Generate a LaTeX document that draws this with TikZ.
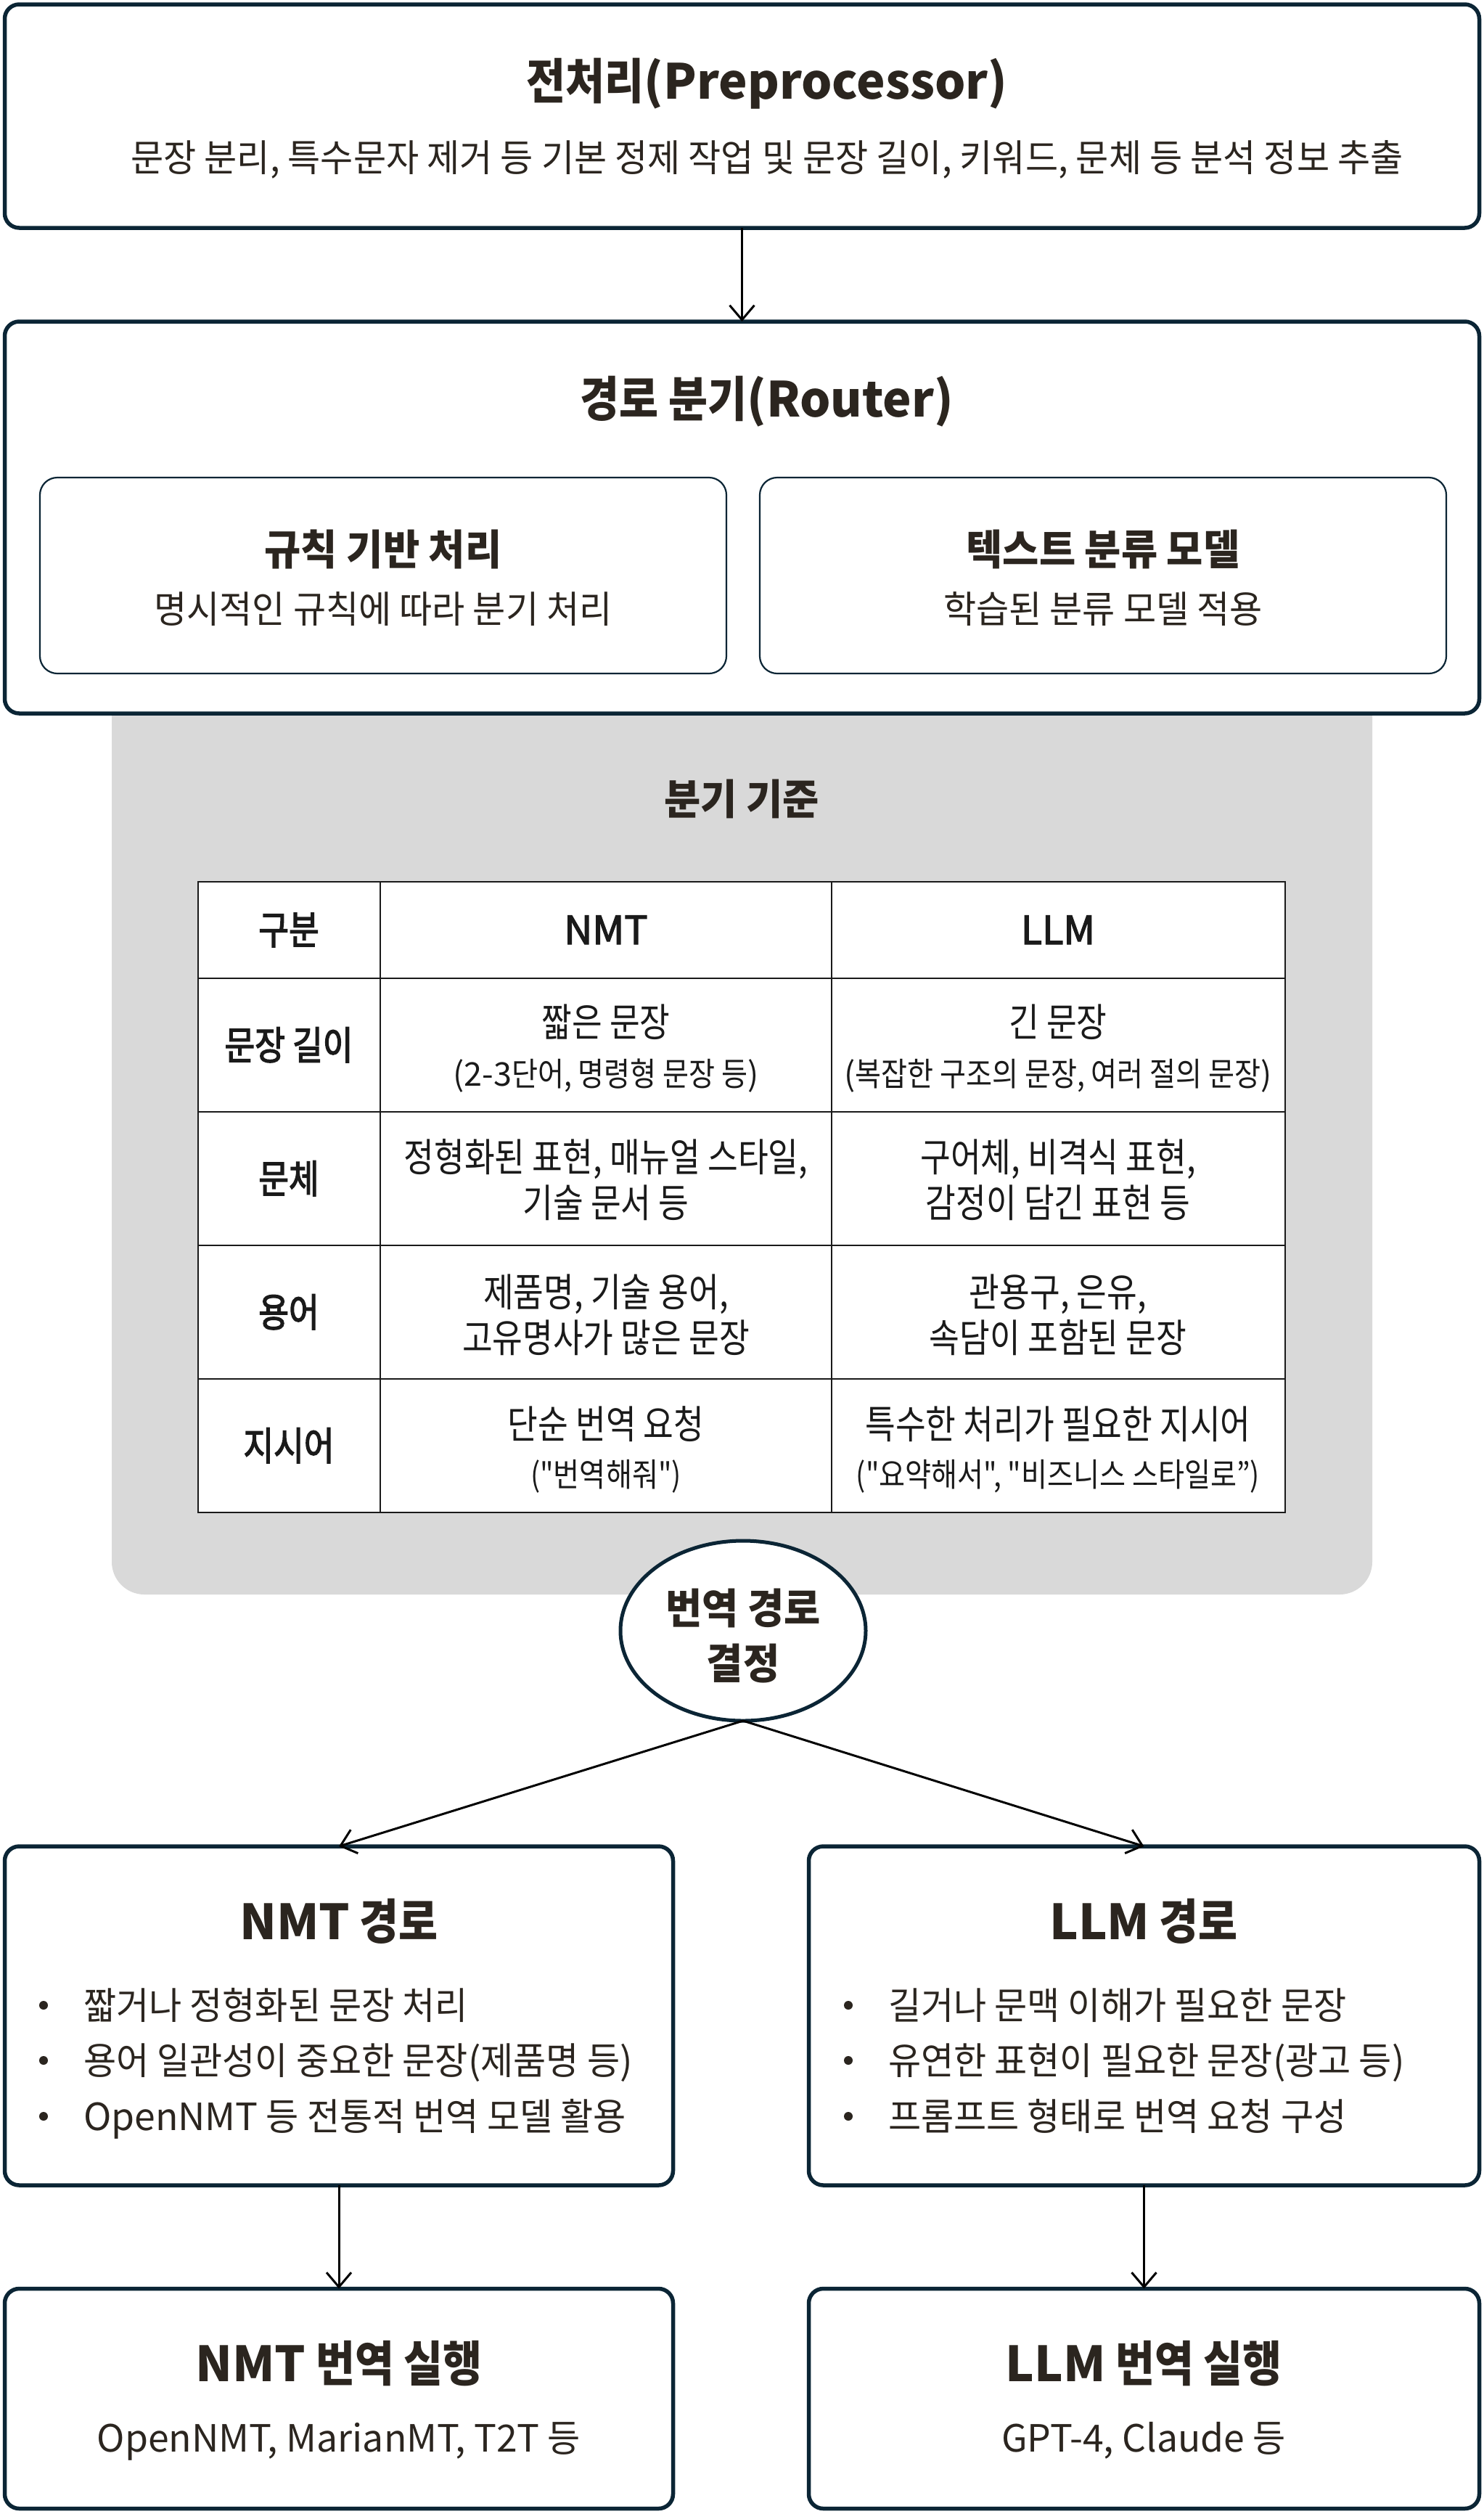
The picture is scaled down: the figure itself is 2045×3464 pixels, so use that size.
\documentclass[tikz,border=0pt]{standalone}
\usepackage{fontspec}
\setmainfont{Noto Sans CJK KR}[FakeStretch=0.95]
\newfontfamily\famT{Noto Sans CJK KR}[FakeStretch=0.88]
\newfontfamily\famC{Noto Sans CJK KR}[FakeStretch=0.84]
\newfontfamily\famCM{Noto Sans CJK KR}[FakeStretch=0.84,FakeBold=2.5]
\newfontfamily\famS{Noto Sans CJK KR}[FakeStretch=0.87]
\newfontfamily\lat{Noto Sans CJK KR}
\newfontfamily\latM{Noto Sans CJK KR}[FakeBold=2.5]
\usetikzlibrary{arrows.meta,shapes.geometric}
\definecolor{navy}{HTML}{0B2535}
\definecolor{textc}{HTML}{2B251F}
\definecolor{tabc}{HTML}{1A1A1A}
\definecolor{panelc}{HTML}{D9D9D9}
\newcommand\fszT{\fontsize{66.7pt}{80pt}\selectfont\famT\bfseries}
\newcommand\fszH{\fontsize{57.5pt}{69pt}\selectfont\bfseries}
\newcommand\fszB{\fontsize{51.7pt}{62pt}\selectfont}
\newcommand\fszC{\fontsize{54pt}{64pt}\selectfont\famC}
\newcommand\fszM{\fontsize{54pt}{64pt}\selectfont\famCM}
\newcommand\fszS{\fontsize{45pt}{54pt}\selectfont\famS}
\tikzset{
  box/.style={draw=navy, line width=5.5pt, rounded corners=20pt, fill=white, outer sep=0pt, inner sep=0pt, anchor=north west},
  ibox/.style={draw=navy, line width=2.2pt, rounded corners=24pt, fill=white, outer sep=0pt, inner sep=0pt, anchor=north west},
  panel/.style={fill=panelc, draw=none, rounded corners=45pt, outer sep=0pt, inner sep=0pt, anchor=south west},
  tbl/.style={fill=white, draw=tabc, line width=2.5pt, outer sep=0pt, inner sep=0pt, anchor=north west},
  tline/.style={draw=tabc, line width=2.5pt},
  ell/.style={ellipse, draw=navy, line width=5pt, fill=white, minimum width=338pt, minimum height=248pt, outer sep=0pt, inner sep=0pt},
  T/.style={anchor=base, inner sep=0pt, outer sep=0pt, text=textc},
  TL/.style={anchor=base west, inner sep=0pt, outer sep=0pt, text=textc, font=\fszB},
  C/.style={anchor=base, inner sep=0pt, outer sep=0pt, text=tabc, font=\fszC},
  CS/.style={anchor=base, inner sep=0pt, outer sep=0pt, text=tabc, font=\fszS},
  CM/.style={anchor=base, inner sep=0pt, outer sep=0pt, text=tabc, font=\fszM},
  dot/.style={circle, fill=textc, draw=none, minimum size=12pt, inner sep=0pt},
  arr/.style={-{Straight Barb[length=20pt,width=34pt]}, line width=3pt, draw=black},
}
\begin{document}
\begin{tikzpicture}[x=1pt,y=-1pt]
\useasboundingbox (0,0) rectangle (2045,3464);
\fill[white] (0,0) rectangle (2045,3464);

% gray panel behind router
\node[panel, minimum width=1737pt, minimum height=1400pt] (panel) at (154,2197) {};

% preprocessor
\node[box, minimum width=2032pt, minimum height=308pt] (pre) at (6.5,6) {};
\node[T, font=\fszT] (preT) at (1057,136) {전처리{\lat(Preprocessor)}};
\node[T, font=\fszB] (preS) at (1057,236) {문장 분리, 특수문자 제거 등 기본 정제 작업 및 문장 길이, 키워드, 문체 등 분석 정보 추출};

% router
\node[box, minimum width=2032pt, minimum height=540pt] (router) at (6.5,443) {};
\node[T, font=\fszT] (routerT) at (1057,574) {경로 분기{\lat(Router)}};
\node[ibox, minimum width=946pt, minimum height=270pt] (rule) at (55,658) {};
\node[ibox, minimum width=946pt, minimum height=270pt] (clf) at (1047,658) {};
\node[T, font=\fszH] (ruleT) at (528,778) {규칙 기반 처리};
\node[T, font=\fszB] (ruleS) at (528,858) {명시적인 규칙에 따라 분기 처리};
\node[T, font=\fszH] (clfT) at (1520,778) {텍스트 분류 모델};
\node[T, font=\fszB] (clfS) at (1520,858) {학습된 분류 모델 적용};

\draw[arr] (pre.south) -- (router.north);

% criteria
\node[T, font=\fszH] (crit) at (1022,1122) {분기 기준};
\node[tbl, minimum width=1498pt, minimum height=869pt] (tbl) at (273,1215) {};
\draw[tline] (524,1215) -- (524,2084);
\draw[tline] (1146,1215) -- (1146,2084);
\draw[tline] (273,1348) -- (1771,1348);
\draw[tline] (273,1532) -- (1771,1532);
\draw[tline] (273,1716) -- (1771,1716);
\draw[tline] (273,1900) -- (1771,1900);

\node[CM] (h0) at (398,1301) {구분};
\node[C] (h1) at (835,1301) {\latM NMT};
\node[C] (h2) at (1458,1301) {\latM LLM};

\node[CM] (l1) at (398,1460) {문장 길이};
\node[C] (a1) at (835,1428) {짧은 문장};
\node[CS] (a1s) at (835,1496) {{\lat(2-3}단어, 명령형 문장 등{\lat)}};
\node[C] (b1) at (1458,1428) {긴 문장};
\node[CS] (b1s) at (1458,1496) {{\lat(}복잡한 구조의 문장, 여러 절의 문장{\lat)}};

\node[CM] (l2) at (398,1644) {문체};
\node[C] (a2) at (835,1614) {정형화된 표현, 매뉴얼 스타일,};
\node[C] (a2s) at (835,1677) {기술 문서 등};
\node[C] (b2) at (1458,1614) {구어체, 비격식 표현,};
\node[C] (b2s) at (1458,1677) {감정이 담긴 표현 등};

\node[CM] (l3) at (398,1828) {용어};
\node[C] (a3) at (835,1800) {제품명, 기술 용어,};
\node[C] (a3s) at (835,1863) {고유명사가 많은 문장};
\node[C] (b3) at (1458,1800) {관용구, 은유,};
\node[C] (b3s) at (1458,1863) {속담이 포함된 문장};

\node[CM] (l4) at (398,2012) {지시어};
\node[C] (a4) at (835,1982) {단순 번역 요청};
\node[CS] (a4s) at (835,2048) {("번역해줘")};
\node[C] (b4) at (1458,1982) {특수한 처리가 필요한 지시어};
\node[CS] (b4s) at (1458,2048) {("요약해서", "비즈니스 스타일로”)};

% decision
\node[ell] (dec) at (1024,2247) {};
\node[T, font=\fszH] (decT1) at (1024,2237) {번역 경로};
\node[T, font=\fszH] (decT2) at (1024,2313) {결정};

% paths
\node[box, minimum width=921pt, minimum height=467pt] (nmt) at (6.5,2544) {};
\node[box, minimum width=924pt, minimum height=467pt] (llm) at (1114.5,2544) {};
\draw[arr] (dec.south) -- (nmt.north);
\draw[arr] (dec.south) -- (llm.north);

\node[T, font=\fszT] (nmtT) at (467,2672) {{\lat NMT} 경로};
\node[dot] (nd1) at (60,2763) {};
\node[dot] (nd2) at (60,2839) {};
\node[dot] (nd3) at (60,2916) {};
\node[TL] (nb1) at (115,2782) {짧거나 정형화된 문장 처리};
\node[TL] (nb2) at (115,2858) {용어 일관성이 중요한 문장{\lat(}제품명 등{\lat)}};
\node[TL] (nb3) at (115,2935) {{\lat OpenNMT} 등 전통적 번역 모델 활용};

\node[T, font=\fszT] (llmT) at (1576,2672) {{\lat LLM} 경로};
\node[dot] (ld1) at (1169,2763) {};
\node[dot] (ld2) at (1169,2839) {};
\node[dot] (ld3) at (1169,2916) {};
\node[TL] (lb1) at (1224,2782) {길거나 문맥 이해가 필요한 문장};
\node[TL] (lb2) at (1224,2858) {유연한 표현이 필요한 문장{\lat(}광고 등{\lat)}};
\node[TL] (lb3) at (1224,2935) {프롬프트 형태로 번역 요청 구성};

% execution
\node[box, minimum width=921pt, minimum height=303pt] (nmtx) at (6.5,3153.5) {};
\node[box, minimum width=924pt, minimum height=303pt] (llmx) at (1114.5,3153.5) {};
\draw[arr] (nmt.south) -- (nmtx.north);
\draw[arr] (llm.south) -- (llmx.north);

\node[T, font=\fszT] (nmtxT) at (467,3281) {{\lat NMT} 번역 실행};
\node[T, font=\fszB] (nmtxS) at (467,3378) {{\lat OpenNMT, MarianMT, T2T} 등};
\node[T, font=\fszT] (llmxT) at (1576,3281) {{\lat LLM} 번역 실행};
\node[T, font=\fszB] (llmxS) at (1576,3378) {{\lat GPT-4, Claude} 등};
\end{tikzpicture}
\end{document}
